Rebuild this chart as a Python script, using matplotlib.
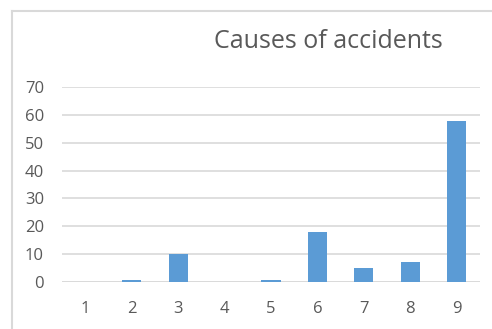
import matplotlib
matplotlib.use("Agg")
import matplotlib.pyplot as plt
from matplotlib.lines import Line2D

categories = ["1", "2", "3", "4", "5", "6", "7", "8", "9"]
counts = [0, 0.6, 10, 0, 0.6, 18, 5, 7, 58]
y_ticks = [0, 10, 20, 30, 40, 50, 60, 70]

bar_color = "#5B9BD5"
grid_color = "#D9D9D9"
text_color = "#595959"
font = ["Open Sans", "DejaVu Sans"]

fig = plt.figure(figsize=(4.92, 3.29), dpi=100)
ax = fig.add_axes([0.126, 0.1438, 0.8496, 0.5909])

x = list(range(len(categories)))
ax.bar(x, counts, width=0.41, color=bar_color, zorder=3)

ax.set_xlim(-0.5, len(categories) - 0.5)
ax.set_ylim(0, 70)
ax.set_yticks(y_ticks)
ax.set_yticklabels([str(v) for v in y_ticks], fontsize=12, color=text_color, family=font)
ax.set_xticks(x)
ax.set_xticklabels(categories, fontsize=12, color=text_color, family=font)
ax.tick_params(axis="both", length=0)
ax.tick_params(axis="y", pad=13)
ax.tick_params(axis="x", pad=14)

ax.grid(axis="y", color=grid_color, linewidth=1.2, zorder=0)
ax.set_axisbelow(True)
for s in ax.spines.values():
    s.set_visible(False)
ax.axhline(0, color=grid_color, linewidth=1.2, zorder=2)

fig.text(0.667, 0.875, "Causes of accidents", ha="center", va="center",
         fontsize=18, color=text_color, family=font)

# frame lines of the chart area
fig.add_artist(Line2D([12 / 492, 1], [1 - 11 / 329, 1 - 11 / 329],
                      transform=fig.transFigure, color=grid_color, linewidth=1.5))
fig.add_artist(Line2D([12 / 492, 12 / 492], [0, 1 - 11 / 329],
                      transform=fig.transFigure, color=grid_color, linewidth=1.5))

fig.savefig("out.png", dpi=100)
